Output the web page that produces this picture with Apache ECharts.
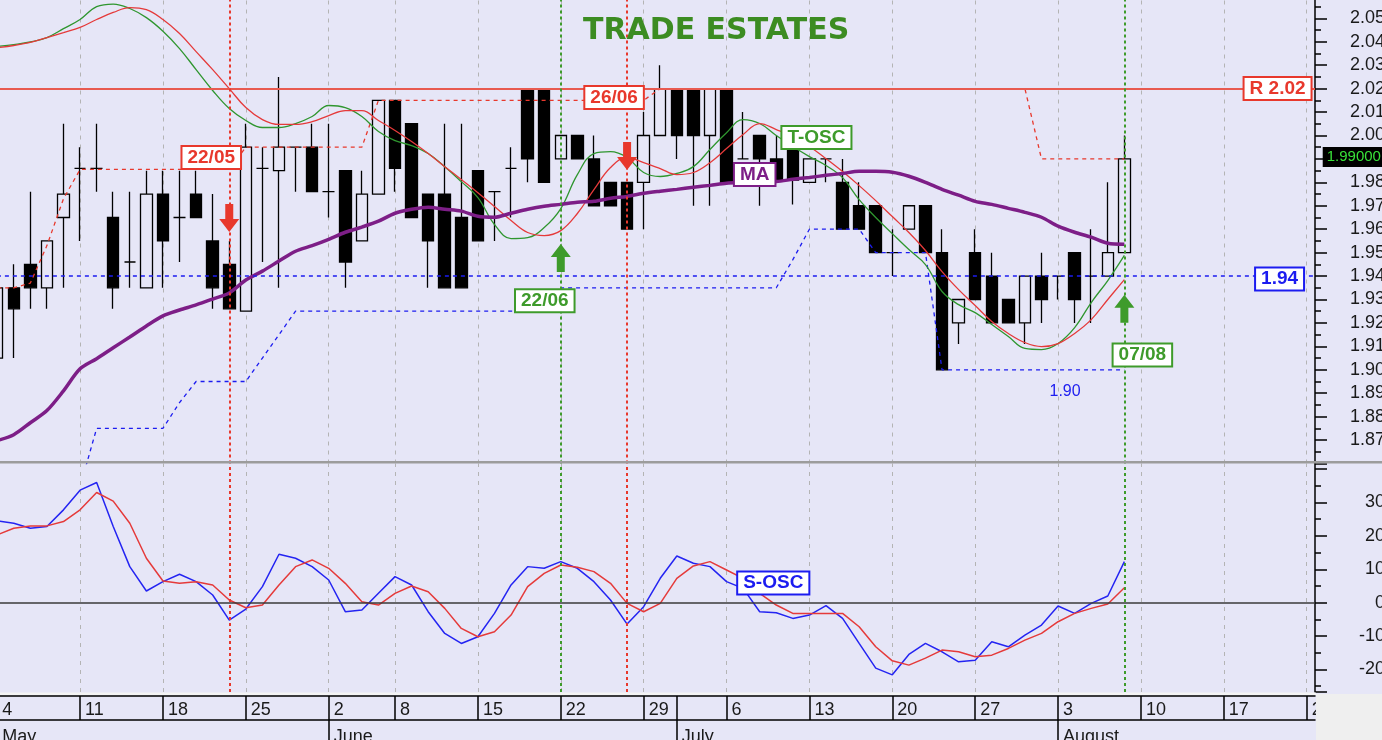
<!DOCTYPE html>
<html>
<head>
<meta charset="utf-8">
<title>Trade Estates</title>
<script src="https://cdn.jsdelivr.net/npm/echarts@6.0.0/dist/echarts.min.js"></script>
<style>
html,body{margin:0;padding:0;background:#e6e6f7;overflow:hidden}
#chart{width:1382px;height:740px}
</style>
</head>
<body>
<div id="chart"></div>
<script>
// ---------- DATA ----------
const dates = [
  '2026-05-04','2026-05-05','2026-05-06','2026-05-07','2026-05-08',
  '2026-05-11','2026-05-12','2026-05-13','2026-05-14','2026-05-15',
  '2026-05-18','2026-05-19','2026-05-20','2026-05-21','2026-05-22',
  '2026-05-25','2026-05-26','2026-05-27','2026-05-28','2026-05-29',
  '2026-06-02','2026-06-03','2026-06-04','2026-06-05',
  '2026-06-08','2026-06-09','2026-06-10','2026-06-11','2026-06-12',
  '2026-06-15','2026-06-16','2026-06-17','2026-06-18','2026-06-19',
  '2026-06-22','2026-06-23','2026-06-24','2026-06-25','2026-06-26',
  '2026-06-29','2026-06-30','2026-07-01','2026-07-02','2026-07-03',
  '2026-07-06','2026-07-07','2026-07-08','2026-07-09','2026-07-10',
  '2026-07-13','2026-07-14','2026-07-15','2026-07-16','2026-07-17',
  '2026-07-20','2026-07-21','2026-07-22','2026-07-23','2026-07-24',
  '2026-07-27','2026-07-28','2026-07-29','2026-07-30','2026-07-31',
  '2026-08-03','2026-08-04','2026-08-05','2026-08-06','2026-08-07',
  '2026-08-10','2026-08-11','2026-08-12','2026-08-13','2026-08-14',
  '2026-08-17','2026-08-18','2026-08-19','2026-08-20','2026-08-21',
  '2026-08-24'
];
const monthNames = ['January','February','March','April','May','June','July','August','September','October','November','December'];

// [open, close, low, high]
const candles = [
  [1.905,1.935,1.900,1.940],[1.935,1.926,1.905,1.945],[1.945,1.935,1.926,1.976],[1.935,1.955,1.926,1.955],[1.965,1.975,1.935,2.005],
  [1.986,1.986,1.955,1.995],[1.986,1.986,1.976,2.005],[1.965,1.935,1.926,1.976],[1.946,1.946,1.935,1.976],[1.935,1.975,1.935,1.985],
  [1.975,1.955,1.935,1.985],[1.965,1.965,1.946,1.985],[1.975,1.965,1.965,1.985],[1.955,1.935,1.926,1.975],[1.945,1.926,1.926,1.955],
  [1.925,1.995,1.925,2.005],[1.986,1.986,1.946,1.995],[1.985,1.995,1.935,2.025],[1.995,1.995,1.976,1.995],[1.995,1.976,1.976,2.005],
  [1.976,1.976,1.965,2.005],[1.985,1.946,1.935,1.985],[1.955,1.975,1.955,1.985],[1.975,2.015,1.975,2.015],
  [2.015,1.986,1.976,2.015],[2.005,1.965,1.965,2.005],[1.975,1.955,1.935,1.975],[1.975,1.935,1.935,2.005],[1.965,1.935,1.935,2.005],
  [1.985,1.955,1.955,1.985],[1.976,1.976,1.955,1.976],[1.986,1.986,1.965,1.995],[2.020,1.990,1.980,2.020],[2.020,1.980,1.980,2.020],
  [1.990,2.000,1.990,2.000],[2.000,1.990,1.990,2.000],[1.990,1.970,1.970,2.000],[1.980,1.970,1.970,1.980],[1.980,1.960,1.960,1.980],
  [1.980,2.000,1.960,2.010],[2.000,2.020,2.000,2.030],[2.020,2.000,1.990,2.020],[2.020,2.000,1.970,2.020],[2.000,2.020,1.970,2.020],
  [2.020,1.980,1.980,2.020],[1.990,1.990,1.990,2.010],[2.000,1.990,1.970,2.000],[1.990,1.981,1.981,2.000],[1.994,1.981,1.9705,1.994],
  [1.980,1.990,1.980,1.990],[1.990,1.990,1.980,1.990],[1.980,1.960,1.960,1.990],[1.970,1.960,1.960,1.980],[1.970,1.950,1.950,1.970],
  [1.950,1.950,1.940,1.960],[1.960,1.970,1.960,1.970],[1.970,1.950,1.950,1.970],[1.950,1.900,1.900,1.960],[1.920,1.930,1.911,1.930],
  [1.950,1.930,1.930,1.960],[1.940,1.920,1.920,1.950],[1.930,1.920,1.920,1.930],[1.920,1.940,1.911,1.940],[1.940,1.930,1.920,1.950],
  [1.940,1.940,1.930,1.940],[1.950,1.930,1.920,1.950],[1.940,1.940,1.920,1.960],[1.940,1.950,1.940,1.980],[1.950,1.990,1.950,2.000]
];

const maLine = [
  1.8698,1.8723,1.8774,1.8826,1.8910,1.9004,1.9047,1.9094,1.9140,1.9187,
  1.9230,1.9255,1.9277,1.9302,1.9328,1.9383,1.9421,1.9464,1.9506,1.9530,
  1.9557,1.9587,1.9609,1.9634,1.9668,1.9685,1.9694,1.9685,1.9677,1.9655,
  1.9651,1.9668,1.9685,1.9698,1.9706,1.9715,1.9719,1.9732,1.9740,1.9753,
  1.9762,1.9770,1.9779,1.9787,1.9796,1.9800,1.9804,1.9804,1.9813,1.9821,
  1.9830,1.9838,1.9847,1.9847,1.9843,1.9826,1.9800,1.9770,1.9745,1.9719,
  1.9706,1.9689,1.9672,1.9651,1.9613,1.9587,1.9566,1.9540,1.9536
];
const toscFast = [
  2.0380,2.0388,2.0399,2.0418,2.0456,2.0495,2.0550,2.0561,2.0542,2.0503,
  2.0445,2.0371,2.0281,2.0192,2.0115,2.0064,2.0034,2.0034,2.0051,2.0081,
  2.0128,2.0119,2.0081,2.0017,1.9978,1.9957,1.9923,1.9867,1.9803,1.9735,
  1.9620,1.9560,1.9564,1.9607,1.9688,1.9833,1.9923,1.9931,1.9906,1.9842,
  1.9825,1.9838,1.9867,1.9940,2.0012,2.0068,2.0051,2.0000,1.9953,1.9910,
  1.9872,1.9820,1.9726,1.9650,1.9581,1.9513,1.9449,1.9334,1.9278,1.9244,
  1.9193,1.9142,1.9091,1.9086,1.9112,1.9180,1.9287,1.9381,1.9488
];
const toscSlow = [
  2.0375,2.0384,2.0397,2.0418,2.0439,2.0461,2.0495,2.0525,2.0546,2.0537,
  2.0495,2.0435,2.0358,2.0281,2.0200,2.0119,2.0068,2.0047,2.0047,2.0059,
  2.0085,2.0106,2.0106,2.0064,2.0021,1.9974,1.9923,1.9867,1.9812,1.9756,
  1.9697,1.9637,1.9586,1.9573,1.9594,1.9667,1.9769,1.9863,1.9906,1.9884,
  1.9859,1.9833,1.9842,1.9884,1.9944,2.0004,2.0051,2.0025,1.9995,1.9953,
  1.9901,1.9846,1.9786,1.9722,1.9654,1.9586,1.9509,1.9419,1.9342,1.9274,
  1.9206,1.9155,1.9116,1.9099,1.9112,1.9155,1.9214,1.9300,1.9385
];
const resistTrail = [
  1.935,1.935,1.937,1.953,1.973,
  1.9855,1.9855,1.9855,1.9855,1.9855,1.9855,1.9855,1.9855,1.9855,1.9855,
  1.995,1.995,1.995,1.995,1.995,1.995,1.995,1.995,
  2.015,2.015,2.015,2.015,2.015,2.015,2.015,2.015,2.015,2.015,2.015,2.015,2.015,2.015,2.015,2.015,2.015,
  2.02,2.02,2.02,2.02,2.02,2.02,2.02,2.02,2.02,2.02,2.02,2.02,2.02,2.02,2.02,2.02,2.02,2.02,2.02,2.02,2.02,2.02,2.02,
  1.99,1.99,1.99,1.99,1.99,1.99
];
const supportTrail = [
  1.85,1.85,1.85,1.85,1.85,1.85,
  1.875,1.875,1.875,1.875,1.875,
  1.886,
  1.895,1.895,1.895,1.895,
  1.905,1.915,
  1.925,1.925,1.925,1.925,1.925,1.925,1.925,1.925,1.925,1.925,1.925,1.925,1.925,1.925,1.925,1.925,
  1.935,1.935,1.935,1.935,1.935,1.935,1.935,1.935,1.935,1.935,1.935,1.935,1.935,1.935,
  1.947,
  1.96,1.96,1.96,1.96,
  1.95,1.95,1.95,1.95,
  1.90,1.90,1.90,1.90,1.90,1.90,1.90,1.90,1.90,1.90,1.90,1.90
];
const soscLine = [
  24.5,23.8,22.3,22.8,27.8,33.7,36.0,22.8,10.8,3.5,
  6.3,8.5,6.3,2.3,-5.2,-1.9,4.8,14.5,13.3,10.8,
  6.8,-2.7,-2.2,2.8,7.8,5.3,-2.7,-9.2,-12.2,-10.2,
  -3.2,5.3,10.8,10.3,12.3,10.3,6.3,0.8,-6.4,-1.2,
  7.3,14.0,11.8,10.8,6.3,4.3,-2.7,-3.0,-4.7,-3.7,
  -0.9,-4.7,-12.2,-19.6,-21.6,-15.5,-12.2,-14.7,-17.7,-17.2,
  -11.7,-13.2,-9.7,-6.7,-1.0,-3.2,-0.2,2.0,12.3
];
const soscSignal = [
  20.3,22.3,23.0,23.0,24.3,27.8,33.0,30.4,23.8,13.3,
  6.5,5.8,6.3,5.3,0.8,-1.5,-0.7,5.3,10.8,12.8,
  10.3,5.8,0.3,-0.7,2.8,5.0,3.3,-1.7,-7.7,-10.2,
  -8.7,-3.7,4.8,8.8,11.3,10.6,9.3,5.8,-0.2,-2.7,
  -0.2,7.3,11.0,12.3,9.8,7.3,2.8,-0.7,-3.2,-3.2,
  -3.2,-3.2,-7.2,-13.2,-17.4,-18.7,-16.6,-14.2,-14.7,-16.2,
  -15.7,-13.7,-11.2,-9.2,-5.7,-3.2,-1.7,-0.4,4.5
];
const sellDays = ['2026-05-22','2026-06-26'];
const buyDays = ['2026-06-22','2026-08-07'];
const resistance = 2.02;
const support = 1.94;
const lowMark = 1.90;
const lastClose = 1.99;
const oscLabelTicks = [-20, -10, 0, 10, 20, 30];

// ---------- STYLE ----------
const BG = '#e6e6f7';
const FF = 'Liberation Sans, Arial, sans-serif';
const RED = '#e8382c';
const GREEN = '#3e9b2b';
const BLUE = '#1c1cf0';
const PURPLE = '#7d1e87';
const GRIDLINE = {color:'#b4b4b4', width:1, type:[4,5]};

// week starts & month starts derived from the dates
const weekStarts = [], monthStarts = [];
dates.forEach((d, i) => {
  const dt = new Date(d + 'T00:00:00Z');
  if (i === 0) { weekStarts.push(i); monthStarts.push(i); return; }
  const pv = new Date(dates[i-1] + 'T00:00:00Z');
  if (dt.getUTCDay() < pv.getUTCDay() || (dt - pv) > 3 * 86400000) weekStarts.push(i);
  if (dt.getUTCMonth() !== pv.getUTCMonth()) monthStarts.push(i);
});
const weekSet = new Set(weekStarts), monthSet = new Set(monthStarts);
const ddmm = d => d.slice(8,10) + '/' + d.slice(5,7);

const eventLines = [
  ...sellDays.map(d => ({xAxis:d, lineStyle:{color:RED, width:2, type:[3,3]}})),
  ...buyDays.map(d => ({xAxis:d, lineStyle:{color:GREEN, width:2, type:[3,3]}}))
];
const gridLines = weekStarts.map(i => ({xAxis: dates[i]}));

const UP = 'path://M10,0L20,13L14,13L14,28L6,28L6,13L0,13Z';
const DOWN = 'path://M6,0L14,0L14,15L20,15L10,28L0,15L6,15Z';
function arrow(d, v, dir, color) {
  return {coord:[d, v], symbol: dir === 'up' ? UP : DOWN, symbolSize:[20,28],
          itemStyle:{color}, label:{show:false}};
}
function box(d, v, text, color, offset) {
  return {coord:[d, v], symbol:'rect', symbolSize:1, itemStyle:{color:'rgba(0,0,0,0)'},
    label:{show:true, position:'inside', formatter:text, color, fontFamily:FF, fontSize:19,
      fontWeight:'bold', backgroundColor:'#ffffff', borderColor:color, borderWidth:2,
      padding:[2,5,0,5], offset}};
}

const topMarks = [
  arrow(sellDays[0], 1.9648, 'down', RED),
  arrow(sellDays[1], 1.9912, 'down', RED),
  arrow(buyDays[0], 1.9477, 'up', GREEN),
  arrow(buyDays[1], 1.9261, 'up', GREEN),
  box(sellDays[0], 1.9906, ddmm(sellDays[0]), RED, [-18,0]),
  box(sellDays[1], 2.0162, ddmm(sellDays[1]), RED, [-13,0]),
  box(buyDays[0], 1.9295, ddmm(buyDays[0]), GREEN, [-16,0]),
  box(buyDays[1], 1.9063, ddmm(buyDays[1]), GREEN, [18,0]),
  box(dates[49], 1.9991, 'T-OSC', GREEN, [7,0]),
  box(dates[46], 1.9833, 'MA', PURPLE, [-5,0]),
  box(dates[77], resistance, 'R ' + resistance.toFixed(2), RED, [4,0]),
  box(dates[77], support, support.toFixed(2), BLUE, [6,3]),
  {coord:[dates[64], 1.8907], symbol:'rect', symbolSize:1, itemStyle:{color:'rgba(0,0,0,0)'},
   label:{show:true, position:'inside', formatter: lowMark.toFixed(2), color:BLUE, fontFamily:FF, fontSize:16, offset:[7,0]}},
  {coord:[dates[79], lastClose], symbol:'rect', symbolSize:1, itemStyle:{color:'rgba(0,0,0,0)'},
   label:{show:true, position:'inside', align:'left', formatter: lastClose.toFixed(5), color:'#39e239',
     fontFamily:FF, fontSize:15, backgroundColor:'#000', padding:[3,4,2,4], offset:[16,-2]}}
];

const option = {
  animation:false,
  backgroundColor: BG,
  title: {text:'TRADE ESTATES', left:578, top:11,
    textStyle:{color:'#3c8c22', fontSize:30, fontWeight:'bold', fontFamily:'DejaVu Sans, Verdana, sans-serif'}},
  grid: [
    {left:-11.1, right:67, top:-5.1, height:468.6, containLabel:false, outerBoundsMode:'none'},
    {left:-11.1, right:67, top:464, height:228, containLabel:false, outerBoundsMode:'none'}
  ],
  xAxis: [
    {type:'category', gridIndex:0, data:dates, boundaryGap:true, show:false},
    {type:'category', gridIndex:1, data:dates, boundaryGap:true, position:'bottom', offset:4,
      axisLine:{show:true, onZero:false, lineStyle:{color:'#000', width:1.5}},
      axisTick:{show:true, alignWithLabel:true, length:24, interval:(i) => weekSet.has(i) || monthSet.has(i),
        lineStyle:{color:'#000', width:1.5}},
      axisLabel:{show:true, interval:(i) => weekSet.has(i), align:'left', padding:[0,0,0,5], margin:5,
        formatter:(v) => String(parseInt(v.slice(8,10), 10)), color:'#1a1a1a', fontFamily:FF, fontSize:18, hideOverlap:false},
      splitLine:{show:false}},
    {type:'category', gridIndex:1, data:dates, boundaryGap:true, position:'bottom', offset:28,
      axisLine:{show:true, onZero:false, lineStyle:{color:'#000', width:1.5}},
      axisTick:{show:true, alignWithLabel:true, length:24, interval:(i) => monthSet.has(i),
        lineStyle:{color:'#000', width:1.5}},
      axisLabel:{show:true, interval:(i) => monthSet.has(i), align:'left', padding:[0,0,0,5], margin:8,
        formatter:(v) => monthNames[parseInt(v.slice(5,7), 10) - 1], color:'#1a1a1a', fontFamily:FF, fontSize:18, hideOverlap:false},
      splitLine:{show:false}}
  ],
  yAxis: [
    {type:'value', gridIndex:0, position:'right', min:1.86, max:2.06, interval:0.01,
      axisLine:{show:true, lineStyle:{color:'#000', width:1.5}},
      axisTick:{show:true, length:12, lineStyle:{color:'#000', width:1.5}},
      minorTick:{show:true, splitNumber:2, length:6, lineStyle:{color:'#000', width:1.5}},
      axisLabel:{margin:35, showMinLabel:false, showMaxLabel:true, formatter:(v) => v.toFixed(2), color:'#1a1a1a', fontFamily:FF, fontSize:18},
      splitLine:{show:false}, minorSplitLine:{show:false}},
    {type:'value', gridIndex:1, position:'right', min:-26.74, max:41.53, minInterval:10, maxInterval:10,
      axisLine:{show:true, lineStyle:{color:'#000', width:1.5}},
      axisTick:{show:true, length:12, lineStyle:{color:'#000', width:1.5}},
      minorTick:{show:true, splitNumber:2, length:6, lineStyle:{color:'#000', width:1.5}},
      axisLabel:{margin:70, align:'right', showMinLabel:false, showMaxLabel:false,
        formatter:(v) => oscLabelTicks.includes(Math.round(v)) ? String(Math.round(v)) : '',
        color:'#1a1a1a', fontFamily:FF, fontSize:18},
      splitLine:{show:false}, minorSplitLine:{show:false}}
  ],
  series: [
    {type:'candlestick', name:'Price', xAxisIndex:0, yAxisIndex:0, data:candles, barWidth:12, z:2,
      itemStyle:{color:BG, color0:'#000', borderColor:'#000', borderColor0:'#000', borderColorDoji:'#000', borderWidth:1.3},
      emphasis:{disabled:true},
      markLine:{silent:true, z:1, symbol:['none','none'], label:{show:false}, lineStyle:GRIDLINE, data:gridLines}},
    {type:'line', name:'Resistance trail', xAxisIndex:0, yAxisIndex:0, data:resistTrail, symbol:'none', z:3,
      lineStyle:{color:RED, width:1.3, type:[4,4]}, emphasis:{disabled:true}},
    {type:'line', name:'Support trail', xAxisIndex:0, yAxisIndex:0, data:supportTrail, symbol:'none', z:3,
      lineStyle:{color:BLUE, width:1.3, type:[4,4]}, emphasis:{disabled:true}},
    {type:'line', name:'T-OSC fast', xAxisIndex:0, yAxisIndex:0, data:toscFast, symbol:'none', smooth:0.4, z:3,
      lineStyle:{color:'#2f962f', width:1.3}, emphasis:{disabled:true}},
    {type:'line', name:'T-OSC slow', xAxisIndex:0, yAxisIndex:0, data:toscSlow, symbol:'none', smooth:0.4, z:3,
      lineStyle:{color:'#e53a3a', width:1.3}, emphasis:{disabled:true}},
    {type:'line', name:'MA', xAxisIndex:0, yAxisIndex:0, data:maLine, symbol:'none', smooth:0.3, z:4,
      lineStyle:{color:PURPLE, width:3.5}, emphasis:{disabled:true},
      markLine:{silent:true, z:6, symbol:['none','none'], label:{show:false},
        data:[
          {yAxis:resistance, lineStyle:{color:'#e85a50', width:2, type:'solid'}},
          {yAxis:support, lineStyle:{color:BLUE, width:1.5, type:[4,4]}},
          ...eventLines
        ]},
      markPoint:{silent:true, z:10, label:{show:false}, data:topMarks}},
    {type:'line', name:'S-OSC', xAxisIndex:1, yAxisIndex:1, data:soscLine, symbol:'none', z:3,
      lineStyle:{color:'#2424f2', width:1.5}, emphasis:{disabled:true},
      markLine:{silent:true, z:1, symbol:['none','none'], label:{show:false}, lineStyle:GRIDLINE, data:gridLines}},
    {type:'line', name:'S-OSC signal', xAxisIndex:1, yAxisIndex:1, data:soscSignal, symbol:'none', z:3,
      lineStyle:{color:'#e53a3a', width:1.5}, emphasis:{disabled:true},
      markLine:{silent:true, z:6, symbol:['none','none'], label:{show:false},
        data:[{yAxis:0, lineStyle:{color:'#3a3a3a', width:1.5, type:'solid'}}, ...eventLines]},
      markPoint:{silent:true, z:10, label:{show:false},
        data:[box(dates[47], 5.9, 'S-OSC', BLUE, [-3,0])]}}
  ],
  graphic: [
    {type:'rect', z:100, silent:true, shape:{x:0, y:461, width:1382, height:2.5}, style:{fill:'#9c9c9c'}},
    {type:'rect', z:100, silent:true, shape:{x:0, y:692.5, width:1316, height:2.5}, style:{fill:'#f4f4f4'}},
    {type:'rect', z:100, silent:true, shape:{x:1316, y:694, width:66, height:46}, style:{fill:'#efefef'}}
  ]
};

const chart = echarts.init(document.getElementById('chart'), null, {renderer:'canvas', width:1382, height:740});
chart.setOption(option);
</script>
</body>
</html>
